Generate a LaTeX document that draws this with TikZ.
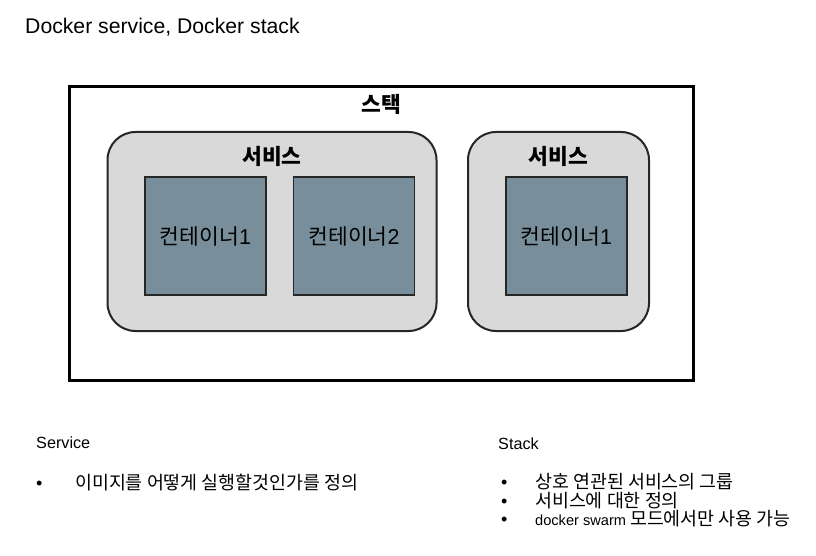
\documentclass[tikz,border=0pt]{standalone}
\usepackage{fontspec}
\setmainfont{Liberation Sans}
\newfontfamily\kr{Noto Sans CJK KR}
\newcommand\kotext[1]{{\kr\fontsize{18.4}{20}\selectfont #1}}
\usetikzlibrary{positioning}
\definecolor{svcgray}{RGB}{217,217,217}
\definecolor{ctnblue}{RGB}{120,143,155}

\begin{document}
\begin{tikzpicture}[x=1pt,y=-1pt,
                    stk/.style={draw,line width=3pt,minimum width=624pt,minimum height=293pt},
                    svc/.style={draw=black!85,fill=svcgray,line width=2pt,rounded corners=28pt,minimum height=199pt},
                    ctn/.style={draw=black!85,fill=ctnblue,line width=1.5pt,minimum width=121pt,
                                minimum height=118pt,font=\fontsize{21.5}{24}\selectfont},
                    hd/.style={font=\kr\bfseries\fontsize{21.5}{24}\selectfont},
                    txt/.style={anchor=base west,inner sep=0pt,font=\fontsize{16.2}{18}\selectfont},
                    dot/.style={anchor=base west,inner sep=0pt,font=\fontsize{18}{20}\selectfont}]

 \useasboundingbox (0,0) rectangle (816,556);
 \node[txt,font=\fontsize{21.2}{24}\selectfont] (T) at (25,34) {Docker service, Docker stack};

 % stack
 \node[stk] (S) at (381,233.5) {};
 \node[hd] (SL) at (381,104) {스택};

 % services
 \node[svc,minimum width=329pt] (V1) at (272,231.5) {};
 \node[svc,minimum width=181pt] (V2) at (558.5,231.5) {};
 \node[hd] (V1L) at (272,156) {서비스};
 \node[hd] (V2L) at (558.5,156) {서비스};

 \node[ctn] (C1) at (205.5,236) {{\kr 컨테이너}1};
 \node[ctn] (C2) [right=26pt of C1] {{\kr 컨테이너}2};
 \node[ctn] (C3) at (566.5,236) {{\kr 컨테이너}1};

 % notes
 \node[txt] (SV) at (36,448) {Service};
 \node[dot] (SVb) at (36,489) {\textbullet};
 \node[txt] (SV1) at (75,489) {\kotext{이미지를 어떻게 실행할것인가를 정의}};

 \node[txt] (ST) at (498,449) {Stack};
 \foreach \t [count=\i] in {{\kotext{상호 연관된 서비스의 그룹}},{\kotext{서비스에 대한 정의}},
                            {docker swarm \kotext{모드에서만 사용 가능}}}
  {
   \node[dot] (STb\i) at (501,470+18.5*\i) {\textbullet};
   \node[txt,font=\fontsize{14.6}{18}\selectfont] (ST\i) at (535,470+18.5*\i) {\t};
  }

\end{tikzpicture}
\end{document}
